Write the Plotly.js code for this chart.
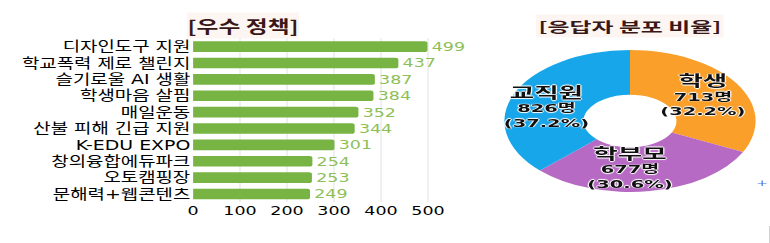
<!DOCTYPE html>
<html>
<head>
<meta charset="utf-8">
<script src="https://cdn.plot.ly/plotly-3.0.1.min.js"></script>
<style>
  html, body { margin: 0; padding: 0; background: #ffffff; width: 770px; height: 243px; overflow: hidden; }
  #bar { position: absolute; left: 0; top: 0; width: 340px; height: 243px; transform: scaleX(1.4); transform-origin: 0 0; }
  #pie { position: absolute; left: 450px; top: 0; width: 181px; height: 243px; transform: scaleX(1.77); transform-origin: 0 0; }
</style>
</head>
<body>
<div id="bar"></div>
<div id="pie"></div>
<script>
// ---- data ----
const policyNames = ['디자인도구 지원', '학교폭력 제로 챌린지', '슬기로울 AI 생활', '학생마음 살핌', '매일운동',
                     '산불 피해 긴급 지원', 'K-EDU EXPO', '창의융합에듀파크', '오토캠핑장', '문해력+웹콘텐츠'];
const policyVotes = [499, 437, 387, 384, 352, 344, 301, 254, 253, 249];
const xTickVals = [0, 100, 200, 300, 400, 500];

const groupNames = ['학생', '학부모', '교직원'];
const groupCounts = [713, 677, 826];
const groupPercents = ['32.2%', '30.6%', '37.2%'];
const groupColors = ['#F99F2A', '#B76AC3', '#17A6EA'];

const titleLeft = '[우수 정책]';
const titleRight = '[응답자 분포 비율]';

const baseFont = 'DejaVu Sans, Noto Sans CJK KR, sans-serif';

// ---- bar chart ----
Plotly.newPlot('bar', [{
  type: 'bar',
  orientation: 'h',
  x: policyVotes,
  y: policyNames,
  marker: { color: '#78B443', cornerradius: 2 },
  text: policyVotes.map(String),
  textposition: 'outside',
  constraintext: 'none',
  textfont: { family: baseFont, size: 12.5, color: '#8DBF58' },
  cliponaxis: false,
  hoverinfo: 'none'
}], {
  width: 340, height: 243,
  margin: { l: 0, r: 0, t: 0, b: 0 },
  paper_bgcolor: 'rgba(0,0,0,0)',
  plot_bgcolor: 'rgba(0,0,0,0)',
  showlegend: false,
  bargap: 0.35,
  xaxis: {
    domain: [0.4056, 0.9188],
    range: [0, 520],
    tickvals: xTickVals,
    ticktext: xTickVals.map(String),
    tickfont: { family: baseFont, size: 12.5, color: '#000000' },
    showgrid: true, gridcolor: '#F0F0F0', gridwidth: 1,
    zeroline: false, showline: false, ticks: '',
    ticklabelstandoff: -1
  },
  yaxis: {
    domain: [0.168, 0.842],
    autorange: 'reversed',
    tickfont: { family: baseFont, size: 13.5, color: '#000000' },
    showgrid: false, zeroline: false, showline: false, ticks: '',
    ticklabelstandoff: 1
  },
  annotations: [{
    xref: 'paper', yref: 'paper', x: 0.509, y: 0.897,
    xanchor: 'center', yanchor: 'middle', showarrow: false,
    text: '<b>' + titleLeft + '</b>',
    font: { family: 'Noto Sans CJK KR, sans-serif', size: 17, color: '#3A1717' },
    bgcolor: '#FCF5F2', borderpad: 0
  }]
}, { staticPlot: true });

// ---- donut chart ----
const baseTemplate = '<span style="font-size:15px"><b>%{label}</b></span><br><b>%{value}명</b><br><b>(%{customdata})</b>';
Plotly.newPlot('pie', [{
  type: 'pie',
  labels: groupNames,
  values: groupCounts,
  customdata: groupPercents,
  marker: { colors: groupColors, line: { width: 0 } },
  hole: 0.37,
  sort: false,
  direction: 'clockwise',
  rotation: 0,
  domain: { x: [0.1696, 0.954], y: [0.21, 0.794] },
  textposition: 'inside',
  insidetextorientation: 'horizontal',
  texttemplate: [baseTemplate, baseTemplate, baseTemplate + '<br> <br> '],
  textfont: { family: baseFont, size: 11, color: '#111111',
              shadow: '1px 0 1px #fff, -1px 0 1px #fff, 0 1px 1px #fff, 0 -1px 1px #fff' },
  hoverinfo: 'none'
}], {
  width: 181, height: 243,
  margin: { l: 0, r: 0, t: 0, b: 0 },
  paper_bgcolor: 'rgba(0,0,0,0)',
  showlegend: false,
  uniformtext: { minsize: 11, mode: 'show' },
  annotations: [{
    xref: 'paper', yref: 'paper', x: 0.559, y: 0.894,
    xanchor: 'center', yanchor: 'middle', showarrow: false,
    text: '<b>' + titleRight + '</b>',
    font: { family: 'Noto Sans CJK KR, sans-serif', size: 13.5, color: '#3A1717' },
    bgcolor: '#FCF5F2', borderpad: 1
  }, {
    xref: 'paper', yref: 'paper', x: 0.975, y: 0.243,
    xanchor: 'center', yanchor: 'middle', showarrow: false,
    text: '+', font: { family: baseFont, size: 8, color: '#3B6FE8' }
  }],
  shapes: [{
    type: 'line', xref: 'paper', yref: 'paper', x0: 0.999, x1: 0.999, y0: 0, y1: 0.07,
    line: { color: '#C8C8C8', width: 1 }
  }]
}, { staticPlot: true });
</script>
</body>
</html>
